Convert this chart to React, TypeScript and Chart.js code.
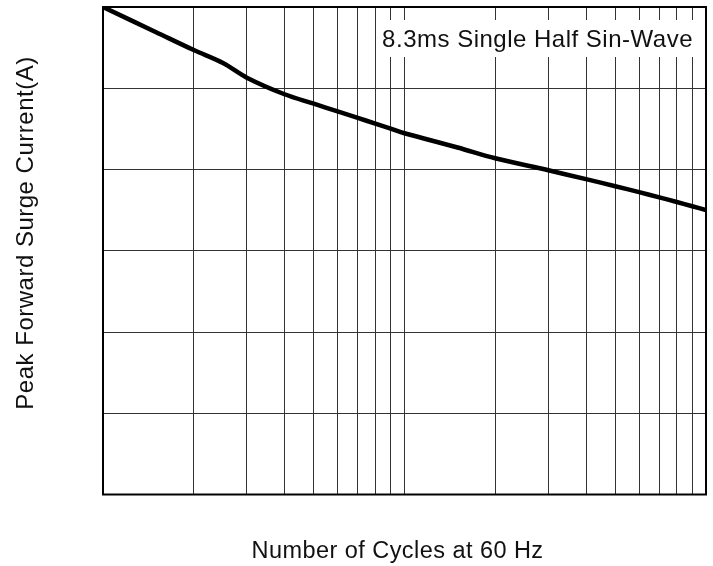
import React, { useEffect, useRef } from "react";
import { Chart, registerables } from "chart.js";

Chart.register(...registerables);

// Number of cycles at 60 Hz (log axis)
const cycles = [1, 1.5, 2, 2.5, 3, 4, 5, 6, 7, 8, 9, 10, 15, 20, 30, 40, 50, 60, 70, 80, 90, 100];
// Peak forward surge current (A)
const surgeCurrent = [60, 56.9, 54.7, 53.1, 51.3, 49.26, 48.1, 47.15, 46.35, 45.65, 45.03, 44.46, 42.71, 41.38, 39.9, 38.81, 37.94, 37.21, 36.57, 36.0, 35.48, 35.02];
// Grid positions
const xGridTicks = [1, 2, 3, 4, 5, 6, 7, 8, 9, 10, 20, 30, 40, 50, 60, 70, 80, 90, 100];
const yGridTicks = [0, 10, 20, 30, 40, 50, 60];

const xTitle = "Number of Cycles at 60 Hz";
const yTitle = "Peak Forward Surge Current(A)";
const noteText = "8.3ms Single Half Sin-Wave";

const FONT = '"Liberation Sans", Arial, Helvetica, sans-serif';

const decorPlugin = {
  id: "decor",
  afterDatasetsDraw(chart: any) {
    const { ctx, chartArea } = chart;
    ctx.save();
    // frame
    ctx.strokeStyle = "#000";
    ctx.lineWidth = 2;
    ctx.strokeRect(chartArea.left, chartArea.top, chartArea.right - chartArea.left, chartArea.bottom - chartArea.top);
    // note box
    ctx.font = `24px ${FONT}`;
    (ctx as any).letterSpacing = "0.5px";
    const w = ctx.measureText(noteText).width;
    const textLeft = chartArea.right - 14 - w + 1;
    ctx.fillStyle = "#fff";
    ctx.fillRect(chartArea.left + 274, chartArea.top + 13, chartArea.right - 6 - (chartArea.left + 274), 37);
    ctx.fillStyle = "#111";
    ctx.textAlign = "left";
    ctx.textBaseline = "alphabetic";
    ctx.fillText(noteText, textLeft, chartArea.top + 40);
    ctx.restore();
  },
  afterDraw(chart: any) {
    const { ctx, chartArea } = chart;
    ctx.save();
    ctx.fillStyle = "#111";
    ctx.textAlign = "center";
    ctx.textBaseline = "alphabetic";
    ctx.font = `23.5px ${FONT}`;
    (ctx as any).letterSpacing = "0.45px";
    ctx.fillText(xTitle, (chartArea.left + chartArea.right) / 2 - 7, 558);
    ctx.font = `24px ${FONT}`;
    (ctx as any).letterSpacing = "0.5px";
    ctx.translate(33, 233);
    ctx.rotate(-Math.PI / 2);
    ctx.fillText(yTitle, 0, 0);
    ctx.restore();
  },
};

export default function App() {
  const ref = useRef<HTMLCanvasElement>(null);
  useEffect(() => {
    if (!ref.current) return;
    const chart = new Chart(ref.current, {
      type: "line",
      data: {
        datasets: [
          {
            data: cycles.map((c, i) => ({ x: c, y: surgeCurrent[i] })),
            borderColor: "#000",
            borderWidth: 4.5,
            pointRadius: 0,
            tension: 0.35,
            fill: false,
          },
        ],
      },
      options: {
        responsive: false,
        animation: false,
        layout: { padding: { left: 0, top: 7, right: 7, bottom: 0 } },
        plugins: { legend: { display: false }, tooltip: { enabled: false } },
        scales: {
          x: {
            type: "logarithmic",
            min: 1,
            max: 100,
            afterBuildTicks: (s: any) => {
              s.ticks = xGridTicks.map((v) => ({ value: v }));
            },
            afterFit: (s: any) => {
              s.height = 71.5;
            },
            ticks: { display: false },
            grid: { color: "#333", lineWidth: 1, drawTicks: false },
            border: { display: false },
          },
          y: {
            type: "linear",
            min: 0,
            max: 60,
            afterBuildTicks: (s: any) => {
              s.ticks = yGridTicks.map((v) => ({ value: v }));
            },
            afterFit: (s: any) => {
              s.width = 103;
            },
            ticks: { display: false },
            grid: { color: "#333", lineWidth: 1, drawTicks: false },
            border: { display: false },
          },
        },
      },
      plugins: [decorPlugin],
    } as any);
    return () => chart.destroy();
  }, []);
  return (
    <div style={{ position: "fixed", left: 0, top: 0, width: 713, height: 566, background: "#fff" }}>
      <canvas ref={ref} width={713} height={566} />
    </div>
  );
}
